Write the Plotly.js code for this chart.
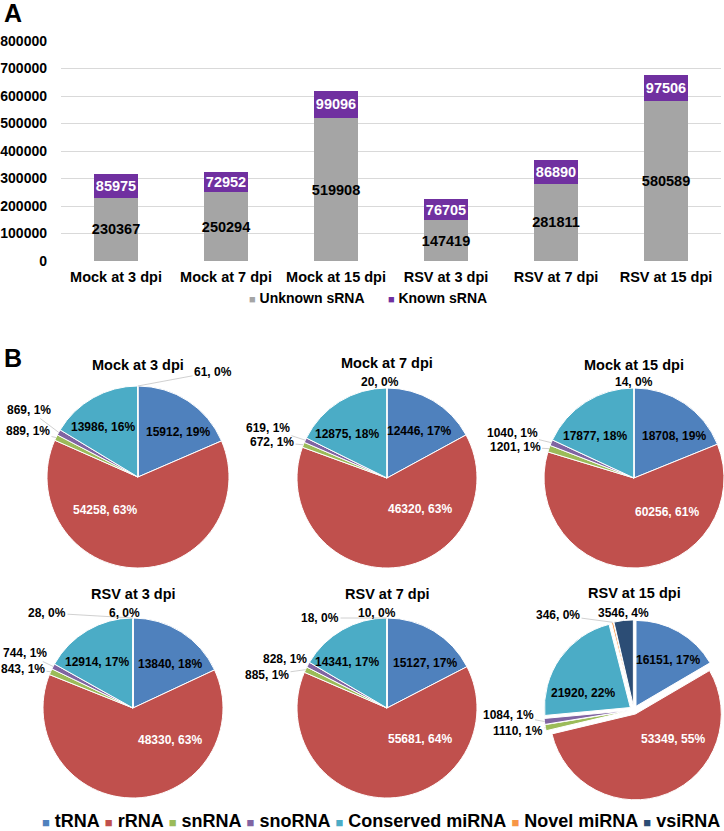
<!DOCTYPE html>
<html><head><meta charset="utf-8">
<script src="https://cdn.plot.ly/plotly-3.0.1.min.js"></script>
<style>html,body{margin:0;padding:0;background:#fff}#chart{width:724px;height:831px}</style>
</head><body><div id="chart"></div>
<script>
// ---------- data ----------
const samples = ['Mock at 3 dpi','Mock at 7 dpi','Mock at 15 dpi','RSV at 3 dpi','RSV at 7 dpi','RSV at 15 dpi'];
const unknownSRNA = [230367, 250294, 519908, 147419, 281811, 580589];
const knownSRNA = [85975, 72952, 99096, 76705, 86890, 97506];
const barSeries = ['Unknown sRNA', 'Known sRNA'];
const yTickVals = [0, 100000, 200000, 300000, 400000, 500000, 600000, 700000, 800000];

const classes = ['tRNA','rRNA','snRNA','snoRNA','Conserved miRNA','Novel miRNA','vsiRNA'];
const mock3 = [15912, 54258, 889, 869, 13986, 61];
const mock7 = [12446, 46320, 672, 619, 12875, 20];
const mock15 = [18708, 60256, 1201, 1040, 17877, 14];
const rsv3 = [13840, 48330, 843, 744, 12914, 28, 6];
const rsv7 = [15127, 55681, 885, 828, 14341, 18, 10];
const rsv15 = [16151, 53349, 1110, 1084, 21920, 346, 3546];

// ---------- styling / layout ----------
const W = 724, H = 831;
const FONT = 'Liberation Sans, Arial, Helvetica, sans-serif';
const barColors = ['#A5A5A5', '#7030A0'];
const classColors = ['#4F81BD','#C0504D','#9BBB59','#8064A2','#4BACC6','#F79646','#2C4D75'];
const labelColors = ['#000000','#FFFFFF','#000000','#000000','#000000','#000000','#000000'];
const insideIdx = [0, 1, 4];
const fx = x => x / W;
const fy = y => 1 - y / H;

const traces = [];
traces.push({
  type: 'bar', name: barSeries[0], x: samples, y: unknownSRNA,
  marker: {color: barColors[0]},
  text: unknownSRNA.map(String), textposition: 'inside', insidetextanchor: 'middle',
  textangle: 0, constraintext: 'none',
  textfont: {size: 14.5, color: '#000', family: FONT, weight: 'bold'},
  hoverinfo: 'skip', showlegend: false
});
traces.push({
  type: 'bar', name: barSeries[1], x: samples, y: knownSRNA,
  marker: {color: barColors[1]},
  text: knownSRNA.map(String), textposition: 'inside', insidetextanchor: 'middle',
  textangle: 0, constraintext: 'none',
  textfont: {size: 14.5, color: '#fff', family: FONT, weight: 'bold'},
  hoverinfo: 'skip', showlegend: false
});

const pieData = [mock3, mock7, mock15, rsv3, rsv7, rsv15];
// pie geometry (centre, radius, explode, title y) in page pixels
const pieGeom = [
  {cx: 138, cy: 477, r: 91, pull: 0, ty: 365},
  {cx: 387, cy: 478, r: 90, pull: 0, ty: 363},
  {cx: 634, cy: 478, r: 90, pull: 0, ty: 365},
  {cx: 133, cy: 708, r: 90, pull: 0, ty: 594},
  {cx: 387, cy: 708, r: 90, pull: 0, ty: 594},
  {cx: 634, cy: 710, r: 86, pull: 0.05, ty: 593}
];
// where each slice's data label sits (page pixels), keyed by slice index
const labelPos = [
  {0: [178, 432], 1: [105, 510], 4: [103, 427], 2: [28, 431], 3: [29, 410], 5: [213, 372]},
  {0: [419, 431], 1: [420, 509], 4: [347, 434], 2: [272, 442], 3: [268, 428], 5: [380, 382]},
  {0: [674, 436], 1: [667, 512], 4: [595, 436], 2: [515, 447], 3: [512, 433], 5: [634, 382]},
  {0: [170, 664], 1: [170, 740], 4: [97, 662], 2: [23, 669], 3: [25, 653], 5: [47, 613], 6: [124, 613]},
  {0: [425, 663], 1: [420, 739], 4: [347, 662], 2: [267, 675], 3: [285, 659], 5: [320, 618], 6: [377, 613]},
  {0: [668, 660], 1: [673, 739], 4: [583, 693], 2: [518, 731], 3: [508, 715], 5: [558, 615], 6: [623, 613]}
];
const clamp = v => Math.max(0, Math.min(1, v));
const annotations = [];

pieData.forEach((vals, k) => {
  const g = pieGeom[k];
  const R = g.r * (1 + g.pull);
  const n = vals.length;
  const labs = classes.slice(0, n);
  traces.push({
    type: 'pie', labels: labs, values: vals, sort: false, direction: 'clockwise', rotation: 0,
    domain: {x: [clamp(fx(g.cx - R)), clamp(fx(g.cx + R))], y: [clamp(fy(g.cy + R)), clamp(fy(g.cy - R))]},
    marker: {colors: classColors.slice(0, n), line: {color: '#fff', width: 1}},
    pull: g.pull ? labs.map(() => g.pull) : 0,
    textinfo: 'none', hoverinfo: 'skip', showlegend: false
  });
  annotations.push({
    text: samples[k], xref: 'paper', yref: 'paper', x: fx(g.cx), y: fy(g.ty),
    xanchor: 'center', yanchor: 'middle', showarrow: false,
    font: {size: 14.5, family: FONT, weight: 'bold', color: '#000'}
  });
  // data labels: inside ones plain, outside ones with a leader line to the slice's rim
  const total = vals.reduce((a, b) => a + b, 0);
  let cum = 0;
  vals.forEach((v, i) => {
    const mid = (cum + v / 2) / total * 2 * Math.PI;
    cum += v;
    const pos = labelPos[k][i];
    const txt = `${v}, ${Math.round(v / total * 100)}%`;
    const font = {size: 12, family: FONT, weight: 'bold', color: labelColors[i]};
    if (insideIdx.includes(i)) {
      annotations.push({text: txt, xref: 'paper', yref: 'paper', x: fx(pos[0]), y: fy(pos[1]),
        xanchor: 'center', yanchor: 'middle', showarrow: false, font: font});
      return;
    }
    const rho = g.r * (1 + g.pull);
    const tx = g.cx + rho * Math.sin(mid), ty = g.cy - rho * Math.cos(mid);
    annotations.push({
      text: txt, xref: 'paper', yref: 'paper',
      x: fx(tx), y: fy(ty), ax: pos[0] - tx, ay: pos[1] - ty, axref: 'pixel', ayref: 'pixel',
      showarrow: true, arrowhead: 0, arrowwidth: 0.8, arrowcolor: '#C4C4C4', standoff: 0,
      xanchor: 'center', yanchor: 'middle', font: font
    });
  });
});

function legendText(labels, colors, sq, gap) {
  return labels.map((l, i) =>
    `<span style="color:${colors[i]};font-size:${sq}px">\u25A0</span>\u00A0${l}`
  ).join('\u00A0'.repeat(gap));
}
annotations.push({
  text: legendText(barSeries, barColors, 11, 6), xref: 'paper', yref: 'paper',
  x: fx(368), y: fy(298), xanchor: 'center', yanchor: 'middle', showarrow: false,
  font: {size: 14, family: FONT, weight: 'bold', color: '#000'}
});
annotations.push({
  text: legendText(classes, classColors, 13, 1), xref: 'paper', yref: 'paper',
  x: fx(381), y: fy(821), xanchor: 'center', yanchor: 'middle', showarrow: false,
  font: {size: 18, family: FONT, weight: 'bold', color: '#000'}
});
annotations.push({text: 'A', xref: 'paper', yref: 'paper', x: fx(2), y: fy(13), xanchor: 'left', yanchor: 'middle',
  showarrow: false, font: {size: 25, family: FONT, weight: 'bold', color: '#000'}});
annotations.push({text: 'B', xref: 'paper', yref: 'paper', x: fx(2), y: fy(358), xanchor: 'left', yanchor: 'middle',
  showarrow: false, font: {size: 25, family: FONT, weight: 'bold', color: '#000'}});

const layout = {
  width: W, height: H, margin: {l: 0, r: 0, t: 0, b: 0},
  paper_bgcolor: '#fff', plot_bgcolor: '#fff',
  font: {family: FONT, weight: 'bold', color: '#000', size: 14},
  barmode: 'stack', bargap: 0.6, showlegend: false,
  xaxis: {domain: [fx(61), fx(721)], showgrid: false, showline: false, zeroline: false,
    tickfont: {size: 14.5, family: FONT, weight: 'bold', color: '#000'}, ticks: '', ticklabelstandoff: 5, fixedrange: true},
  yaxis: {domain: [fy(261), fy(41)], range: [0, 800000], tickvals: yTickVals, ticktext: yTickVals.map(String),
    showgrid: true, gridcolor: '#D9D9D9', gridwidth: 1, zeroline: false, showline: false, ticks: '',
    tickfont: {size: 14, family: FONT, weight: 'bold', color: '#000'}, ticklabelstandoff: 13, fixedrange: true},
  annotations: annotations
};

Plotly.newPlot('chart', traces, layout, {staticPlot: true, displayModeBar: false});
</script>
</body></html>
